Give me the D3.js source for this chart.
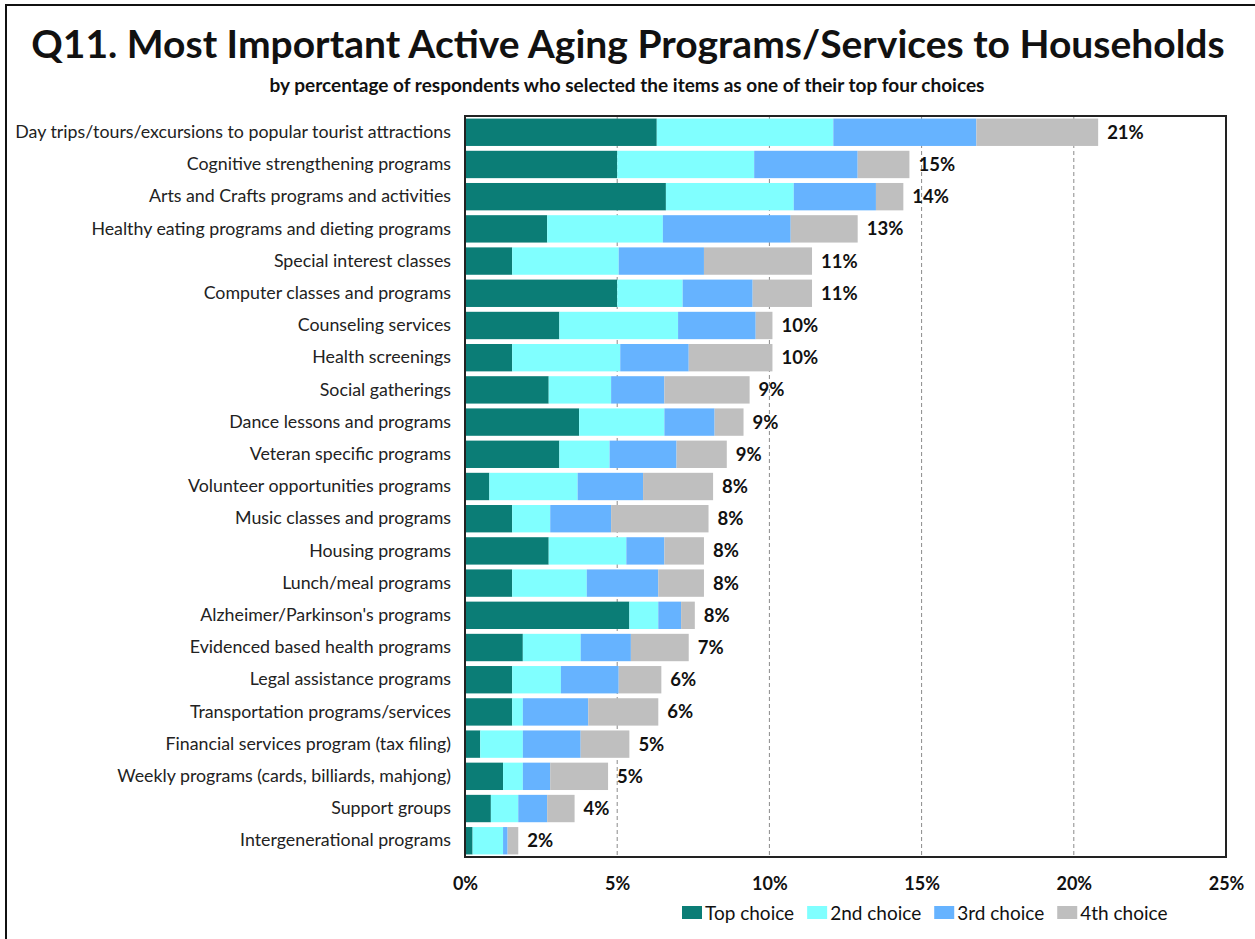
<!DOCTYPE html>
<html>
<head>
<meta charset="utf-8">
<script src="https://cdn.jsdelivr.net/npm/d3@7"></script>
<style>
  html, body { margin: 0; padding: 0; background: #fff; }
  svg { display: block; font-family: Lato, "Open Sans", sans-serif; }
</style>
</head>
<body>
<svg id="chart" width="1255" height="939"></svg>
<script>
// Programs, ordered from most to least selected
const categories = [
  "Day trips/tours/excursions to popular tourist attractions",
  "Cognitive strengthening programs",
  "Arts and Crafts programs and activities",
  "Healthy eating programs and dieting programs",
  "Special interest classes",
  "Computer classes and programs",
  "Counseling services",
  "Health screenings",
  "Social gatherings",
  "Dance lessons and programs",
  "Veteran specific programs",
  "Volunteer opportunities programs",
  "Music classes and programs",
  "Housing programs",
  "Lunch/meal programs",
  "Alzheimer/Parkinson's programs",
  "Evidenced based health programs",
  "Legal assistance programs",
  "Transportation programs/services",
  "Financial services program (tax filing)",
  "Weekly programs (cards, billiards, mahjong)",
  "Support groups",
  "Intergenerational programs"
];

// Percent of respondents per choice rank
const topChoice    = [6.3, 5.0, 6.6, 2.7, 1.55, 5.0, 3.1, 1.55, 2.75, 3.75, 3.1, 0.8, 1.55, 2.75, 1.55, 5.4, 1.9, 1.55, 1.55, 0.5, 1.25, 0.85, 0.25];
const secondChoice = [5.8, 4.5, 4.2, 3.8, 3.5, 2.15, 3.9, 3.55, 2.05, 2.8, 1.65, 2.9, 1.25, 2.55, 2.45, 0.95, 1.9, 1.6, 0.35, 1.4, 0.65, 0.9, 1.0];
const thirdChoice  = [4.7, 3.4, 2.7, 4.2, 2.8, 2.3, 2.55, 2.25, 1.75, 1.65, 2.2, 2.15, 2.0, 1.25, 2.35, 0.75, 1.65, 1.9, 2.15, 1.9, 0.9, 0.95, 0.15];
const fourthChoice = [4.0, 1.7, 0.9, 2.2, 3.55, 1.95, 0.55, 2.75, 2.8, 0.95, 1.65, 2.3, 3.2, 1.3, 1.5, 0.45, 1.9, 1.4, 2.3, 1.6, 1.9, 0.9, 0.35];

const seriesNames = ["Top choice", "2nd choice", "3rd choice", "4th choice"];
const seriesColors = ["#0b7d76", "#80ffff", "#66b3ff", "#bfbfbf"];
const xTicks = [0, 5, 10, 15, 20, 25];

const rows = categories.map((c, i) => ({
  category: c,
  "Top choice": topChoice[i],
  "2nd choice": secondChoice[i],
  "3rd choice": thirdChoice[i],
  "4th choice": fourthChoice[i]
}));

const svg = d3.select("#chart");
const plot = { left: 465, right: 1226, top: 116, bottom: 857 };

const x = d3.scaleLinear().domain([0, 25]).range([plot.left, plot.right]);
const y = d3.scaleBand().domain(categories).range([plot.top, plot.bottom]).paddingInner(0.15).paddingOuter(0.08);

// Outer frame (left and top edges)
svg.append("path")
  .attr("d", "M6,939 V5 H1255")
  .attr("fill", "none").attr("stroke", "#111").attr("stroke-width", 2);

// Title and subtitle
svg.append("text")
  .attr("x", 628).attr("y", 58).attr("text-anchor", "middle")
  .attr("font-size", 39).attr("font-weight", 700).attr("fill", "#111")
  .text("Q11. Most Important Active Aging Programs/Services to Households");
svg.append("text")
  .attr("x", 627).attr("y", 92).attr("text-anchor", "middle")
  .attr("font-size", 19).attr("font-weight", 700).attr("fill", "#111")
  .text("by percentage of respondents who selected the items as one of their top four choices");

// Dashed gridlines
svg.append("g").selectAll("line")
  .data(xTicks.filter(t => t > 0 && t < 25))
  .join("line")
  .attr("x1", d => x(d)).attr("x2", d => x(d))
  .attr("y1", plot.top).attr("y2", plot.bottom)
  .attr("stroke", "#8a8a8a").attr("stroke-width", 1).attr("stroke-dasharray", "4,3");

// Stacked bars
const stack = d3.stack().keys(seriesNames)(rows);
svg.append("g").selectAll("g")
  .data(stack)
  .join("g")
  .attr("fill", (d, i) => seriesColors[i])
  .selectAll("rect")
  .data(d => d)
  .join("rect")
  .attr("x", d => x(d[0]))
  .attr("width", d => x(d[1]) - x(d[0]))
  .attr("y", d => y(d.data.category))
  .attr("height", y.bandwidth());

// Total labels at bar ends
const totals = rows.map(r => d3.sum(seriesNames, k => r[k]));
svg.append("g").selectAll("text")
  .data(categories)
  .join("text")
  .attr("x", (d, i) => x(totals[i]) + 9)
  .attr("y", d => y(d) + y.bandwidth() / 2)
  .attr("dy", "0.35em")
  .attr("font-size", 18.5).attr("font-weight", 700).attr("fill", "#111")
  .text((d, i) => Math.round(totals[i] + 1e-9) + "%");

// Plot frame
svg.append("rect")
  .attr("x", plot.left).attr("y", plot.top)
  .attr("width", plot.right - plot.left).attr("height", plot.bottom - plot.top)
  .attr("fill", "none").attr("stroke", "#222").attr("stroke-width", 2);

// Category axis
const yAxis = svg.append("g")
  .attr("transform", `translate(${plot.left},0)`)
  .call(d3.axisLeft(y).tickSize(0).tickPadding(14));
yAxis.select(".domain").remove();
yAxis.selectAll("text").attr("font-size", 17.8).attr("fill", "#222")
  .attr("font-family", "Lato, 'Open Sans', sans-serif");

// Percent axis
const xAxis = svg.append("g")
  .attr("transform", `translate(0,${plot.bottom})`)
  .call(d3.axisBottom(x).tickValues(xTicks).tickFormat(d => d + "%").tickSize(0).tickPadding(20));
xAxis.select(".domain").remove();
xAxis.selectAll("text").attr("font-size", 18).attr("font-weight", 700).attr("fill", "#111")
  .attr("font-family", "Lato, 'Open Sans', sans-serif");

// Legend
const legend = svg.append("g").attr("transform", "translate(682,913)");
let lx = 0;
seriesNames.forEach((name, i) => {
  const g = legend.append("g").attr("transform", `translate(${lx},0)`);
  g.append("rect").attr("x", 0).attr("y", -7).attr("width", 20).attr("height", 13).attr("fill", seriesColors[i]);
  const t = g.append("text").attr("x", 23).attr("y", 0).attr("dy", "0.35em")
    .attr("font-size", 19).attr("fill", "#111").text(name);
  lx += 23 + t.node().getComputedTextLength() + 13;
});
</script>
</body>
</html>
